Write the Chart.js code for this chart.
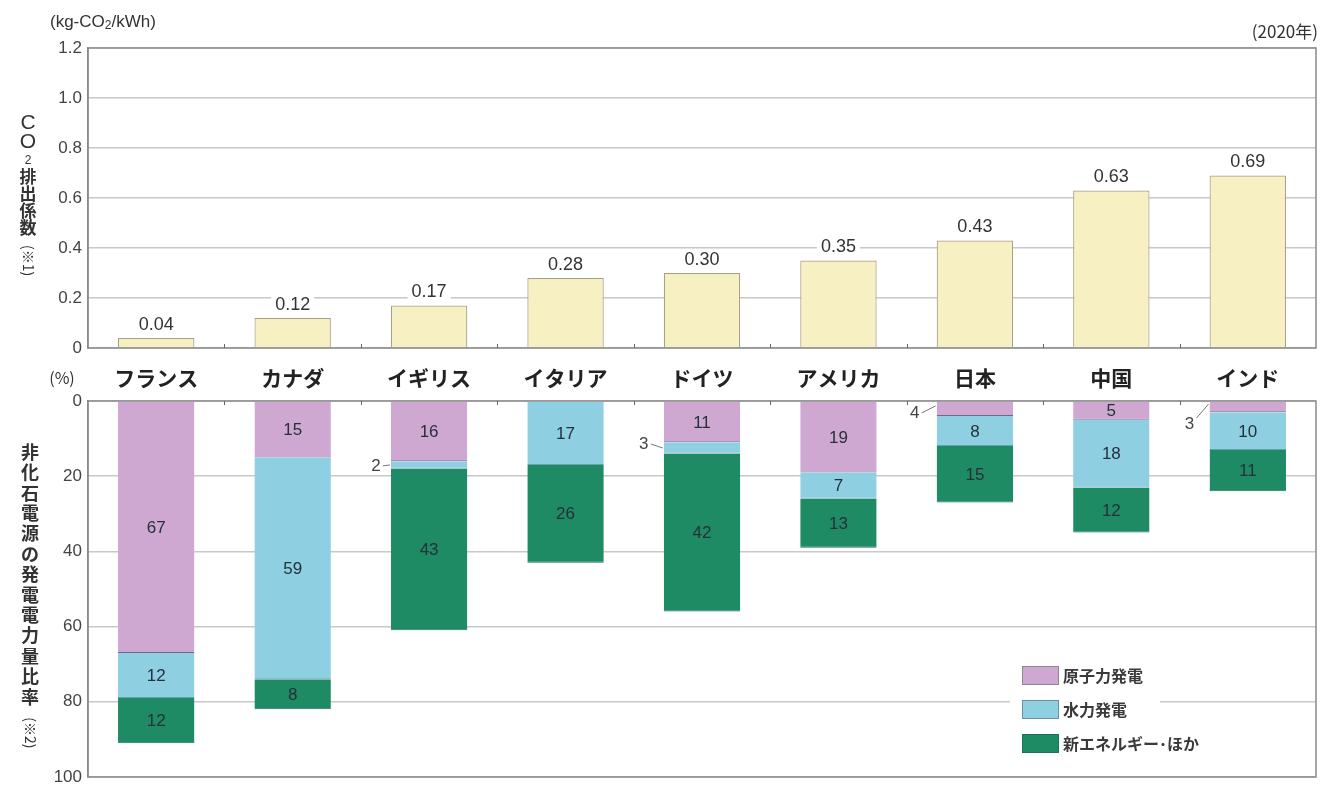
<!DOCTYPE html>
<html lang="ja">
<head>
<meta charset="utf-8">
<title>CO2排出係数と非化石電源比率</title>
<script src="https://cdn.jsdelivr.net/npm/chart.js@4"></script>
<style>
  html, body { margin: 0; padding: 0; background: #ffffff; }
  #wrap { position: relative; width: 1325px; height: 786px; overflow: hidden; }
  .pane { position: absolute; left: 0; }
  #top { top: 0; }
  #bottom { top: 380px; }
</style>
</head>
<body>
<div id="wrap">
  <canvas id="top" class="pane" width="1325" height="400"></canvas>
  <canvas id="bottom" class="pane" width="1325" height="406"></canvas>
</div>
<script>
// ---- data ----
const countries = ['フランス', 'カナダ', 'イギリス', 'イタリア', 'ドイツ', 'アメリカ', '日本', '中国', 'インド'];
const emissionFactor = [0.04, 0.12, 0.17, 0.28, 0.30, 0.35, 0.43, 0.63, 0.69];
const nuclearShare = [67, 15, 16, 0, 11, 19, 4, 5, 3];
const hydroShare = [12, 59, 2, 17, 3, 7, 8, 18, 10];
const renewableShare = [12, 8, 43, 26, 42, 13, 15, 12, 11];
const emissionTicks = [0, 0.2, 0.4, 0.6, 0.8, 1.0, 1.2];
const shareTicks = [0, 20, 40, 60, 80, 100];
const seriesNames = ['原子力発電', '水力発電', '新エネルギー･ほか'];

// ---- styles ----
const JP = '"Noto Sans CJK JP", "Noto Sans", sans-serif';
const NUM = '"Liberation Sans", Arial, sans-serif';
const TEXT = '#333333';
const GRID = '#c8c8c8';
const FRAME = '#8a8a8a';
const COLORS = {
  nuclear: '#cfa8d2', hydro: '#8ecfe2', renew: '#1f8b64',
  nuclearEdge: '#6d6a8c', hydroEdge: '#6a9fb2', renewEdge: '#1b7554',
  co2: '#f7f0c3', co2Edge: '#a9a183'
};
const LEFT_AXIS = 88;

Chart.defaults.devicePixelRatio = 1;
Chart.defaults.animation = false;

// upright vertical caption; parenthesised note is set sideways
function drawVerticalCaption(ctx, x, y0, parts) {
  ctx.save();
  ctx.fillStyle = TEXT;
  ctx.textAlign = 'center';
  ctx.textBaseline = 'middle';
  let y = y0;
  parts.forEach(p => {
    ctx.font = p.font;
    if (p.rotate) {
      const w = ctx.measureText(p.text).width;
      ctx.save();
      ctx.translate(x, y + w / 2);
      ctx.rotate(Math.PI / 2);
      ctx.fillText(p.text, 0, 0);
      ctx.restore();
      y += w + (p.after || 0);
    } else {
      for (const ch of p.text) {
        ctx.fillText(ch, x + (p.dx || 0), y);
        y += p.step;
      }
    }
  });
  ctx.restore();
}

// frame around the plotting area plus small ticks between categories
function frameAndTicks(chart, tickSide) {
  const { ctx, chartArea: a, scales } = chart;
  ctx.save();
  ctx.strokeStyle = FRAME;
  ctx.lineWidth = 1.5;
  ctx.strokeRect(a.left, a.top, a.right - a.left, a.bottom - a.top);
  ctx.strokeStyle = '#666';
  ctx.lineWidth = 1;
  const xs = scales.x;
  for (let i = 0; i < countries.length - 1; i++) {
    const px = (xs.getPixelForValue(i) + xs.getPixelForValue(i + 1)) / 2;
    const y = tickSide === 'bottom' ? a.bottom : a.top;
    const d = tickSide === 'bottom' ? -4 : 4;
    ctx.beginPath();
    ctx.moveTo(Math.round(px) + 0.5, y);
    ctx.lineTo(Math.round(px) + 0.5, y + d);
    ctx.stroke();
  }
  ctx.restore();
}

// ---- upper panel: emission factor ----
const topDecor = {
  id: 'topDecor',
  afterDatasetsDraw(chart) {
    const { ctx } = chart;
    frameAndTicks(chart, 'bottom');
    const meta = chart.getDatasetMeta(0);
    ctx.save();
    ctx.font = '18px ' + NUM;
    ctx.textAlign = 'center';
    ctx.textBaseline = 'bottom';
    meta.data.forEach((bar, i) => {
      const txt = emissionFactor[i].toFixed(2);
      const w = ctx.measureText(txt).width;
      ctx.fillStyle = '#ffffff';
      ctx.fillRect(bar.x - w / 2 - 4, bar.y - 24, w + 8, 20);
      ctx.fillStyle = TEXT;
      ctx.fillText(txt, bar.x, bar.y - 4);
    });
    ctx.restore();
  },
  afterDraw(chart) {
    const { ctx } = chart;
    ctx.save();
    ctx.fillStyle = TEXT;
    ctx.textBaseline = 'middle';
    // unit line with subscript
    ctx.textAlign = 'left';
    ctx.font = '17px ' + NUM;
    let x = 50;
    const y = 22;
    const seg1 = '(kg-CO';
    ctx.fillText(seg1, x, y); x += ctx.measureText(seg1).width;
    ctx.font = '12px ' + NUM;
    ctx.fillText('2', x, y + 4); x += ctx.measureText('2').width;
    ctx.font = '17px ' + NUM;
    ctx.fillText('/kWh)', x, y);
    // year note
    ctx.textAlign = 'right';
    ctx.font = '17px ' + JP;
    ctx.fillText('(2020年)', 1318, 32);
    // percent unit for lower panel
    ctx.textAlign = 'center';
    ctx.font = '16px ' + JP;
    ctx.fillText('(%)', 62, 378);
    ctx.restore();
    drawVerticalCaption(ctx, 28, 123, [
      { text: 'CO', font: '21px ' + NUM, step: 19 },
      { text: '2', font: '12px ' + NUM, step: 16 },
      { text: '排出係数', font: 'bold 17px ' + JP, step: 17 },
      { text: '(※1)', font: '14px ' + JP, rotate: true }
    ]);
  }
};

new Chart(document.getElementById('top'), {
  type: 'bar',
  data: {
    labels: countries,
    datasets: [{
      label: 'CO2排出係数',
      data: emissionFactor,
      backgroundColor: COLORS.co2,
      borderColor: COLORS.co2Edge,
      borderWidth: 1.2,
      barPercentage: 0.56,
      categoryPercentage: 1
    }]
  },
  options: {
    responsive: false,
    layout: { padding: { top: 48, right: 9, left: 0, bottom: 0 } },
    plugins: { legend: { display: false }, tooltip: { enabled: false } },
    scales: {
      x: {
        grid: { display: false },
        border: { display: false },
        ticks: { color: '#222', font: { family: JP, size: 21, weight: 'bold' }, padding: 9, maxRotation: 0 },
        afterFit(s) { s.height = 52; }
      },
      y: {
        min: 0, max: 1.2,
        afterBuildTicks(s) { s.ticks = emissionTicks.map(v => ({ value: v })); },
        grid: { color: GRID, lineWidth: 1.5, drawTicks: false },
        border: { color: FRAME, width: 1.5 },
        ticks: {
          color: '#444', font: { family: NUM, size: 17 }, padding: 6,
          callback: v => (v === 0 ? '0' : Number(v).toFixed(1))
        },
        afterFit(s) { s.width = LEFT_AXIS; }
      }
    }
  },
  plugins: [topDecor]
});

// ---- lower panel: non-fossil share (downward) ----
const leaderNotes = {
  // sideways labels for very thin segments: [dataset, index, dx, dy]
  items: [[1, 2, -15, 1], [1, 4, -20, -4], [0, 6, -22, 4], [0, 8, -20, 17]]
};

const bottomDecor = {
  id: 'bottomDecor',
  afterDatasetsDraw(chart) {
    const { ctx } = chart;
    frameAndTicks(chart, 'top');
    ctx.save();
    ctx.textAlign = 'center';
    ctx.textBaseline = 'middle';
    ctx.font = '17px ' + NUM;
    const sideways = new Set(leaderNotes.items.map(it => it[0] + ':' + it[1]));
    chart.data.datasets.forEach((ds, di) => {
      const meta = chart.getDatasetMeta(di);
      meta.data.forEach((bar, i) => {
        const v = ds.data[i];
        if (!v || sideways.has(di + ':' + i)) return;
        const c = bar.getCenterPoint();
        ctx.fillStyle = '#25303a';
        ctx.fillText(String(v), c.x, c.y + 1);
      });
    });
    // leader labels
    ctx.strokeStyle = '#777';
    ctx.lineWidth = 1;
    leaderNotes.items.forEach(([di, i, dx, dy]) => {
      const bar = chart.getDatasetMeta(di).data[i];
      const c = bar.getCenterPoint();
      const left = bar.x - bar.width / 2;
      const tx = left + dx;
      const ty = c.y + dy;
      ctx.fillStyle = '#444';
      ctx.fillText(String(chart.data.datasets[di].data[i]), tx, ty);
      ctx.beginPath();
      ctx.moveTo(tx + 7, ty - (dy > 6 ? 6 : 0));
      ctx.lineTo(left - 1, dy > 2 ? Math.max(c.y - 3, chart.chartArea.top + 1) : c.y);
      ctx.stroke();
    });
    ctx.restore();
  },
  afterDraw(chart) {
    const { ctx } = chart;
    // legend box
    const lx = 1010, ly = 272;
    ctx.save();
    ctx.fillStyle = '#ffffff';
    ctx.fillRect(lx, ly, 150, 112);
    const fills = [COLORS.nuclear, COLORS.hydro, COLORS.renew];
    const edges = ['#8a8a8a', '#6f8f9a', '#1b7554'];
    ctx.font = 'bold 16px ' + JP;
    ctx.textBaseline = 'middle';
    ctx.textAlign = 'left';
    seriesNames.forEach((name, k) => {
      const by = ly + 14 + k * 34;
      ctx.fillStyle = fills[k];
      ctx.fillRect(1022, by, 37, 19);
      ctx.strokeStyle = edges[k];
      ctx.lineWidth = 1;
      ctx.strokeRect(1022.5, by + 0.5, 36, 18);
      ctx.fillStyle = '#3a3a3a';
      ctx.fillText(name, 1063, by + 10);
    });
    ctx.restore();
    drawVerticalCaption(ctx, 30, 72, [
      { text: '非化石電源の発電電力量比率', font: 'bold 18px ' + JP, step: 20.4 },
      { text: '(※2)', font: '14px ' + JP, rotate: true }
    ]);
  }
};

const segment = (label, data, fill, edge) => ({
  label, data,
  backgroundColor: fill,
  borderColor: edge,
  borderWidth: { top: 0, left: 0, right: 0, bottom: 1 },
  borderSkipped: false,
  barPercentage: 0.56,
  categoryPercentage: 1,
  stack: 'share'
});

new Chart(document.getElementById('bottom'), {
  type: 'bar',
  data: {
    labels: countries,
    datasets: [
      segment(seriesNames[0], nuclearShare, COLORS.nuclear, COLORS.nuclearEdge),
      segment(seriesNames[1], hydroShare, COLORS.hydro, COLORS.hydroEdge),
      segment(seriesNames[2], renewableShare, COLORS.renew, COLORS.renewEdge)
    ]
  },
  options: {
    responsive: false,
    layout: { padding: { top: 21, right: 9, left: 0, bottom: 9 } },
    plugins: { legend: { display: false }, tooltip: { enabled: false } },
    scales: {
      x: { display: false, stacked: true },
      y: {
        stacked: true,
        reverse: true,
        min: 0, max: 100,
        afterBuildTicks(s) { s.ticks = shareTicks.map(v => ({ value: v })); },
        grid: { color: GRID, lineWidth: 1.5, drawTicks: false },
        border: { color: FRAME, width: 1.5 },
        ticks: { color: '#444', font: { family: NUM, size: 17 }, padding: 6 },
        afterFit(s) {
          s.width = LEFT_AXIS;
          s.paddingTop = 0;
          s.paddingBottom = 0;
        }
      }
    }
  },
  plugins: [bottomDecor]
});
</script>
</body>
</html>
